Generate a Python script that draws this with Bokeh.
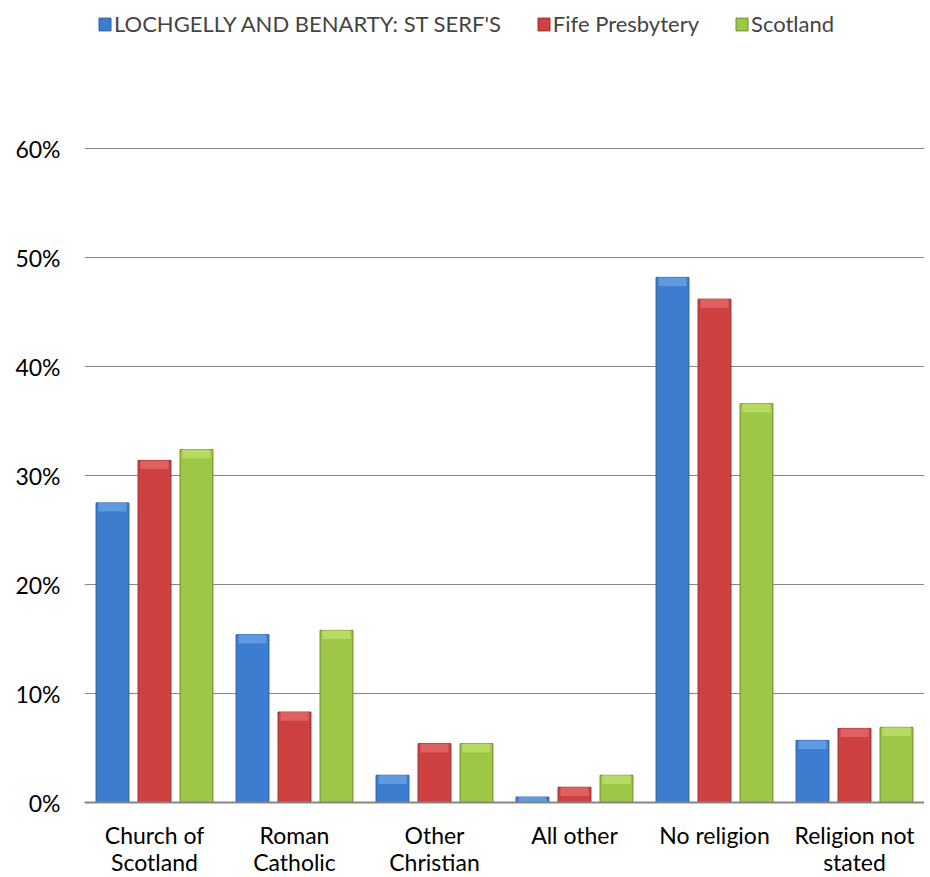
from bokeh.plotting import figure
from bokeh.layouts import column
from bokeh.models import (ColumnDataSource, FixedTicker, Legend, LegendItem, Range1d,
                          NumeralTickFormatter)
from bokeh.core.properties import value
from bokeh.embed import file_html
from bokeh.resources import INLINE

categories = ["Church of\nScotland", "Roman\nCatholic", "Other\nChristian", "All other", "No religion", "Religion not\nstated"]
series_names = ["LOCHGELLY AND BENARTY: ST SERF'S", "Fife Presbytery", "Scotland"]
local = [0.275, 0.154, 0.025, 0.005, 0.482, 0.057]
fife = [0.314, 0.083, 0.054, 0.014, 0.462, 0.068]
scotland = [0.324, 0.158, 0.054, 0.025, 0.366, 0.069]
y_ticks = [0, 0.1, 0.2, 0.3, 0.4, 0.5, 0.6]

colors = ["#3d7dcf", "#cf4040", "#9ec647"]
tops = ["#5e9ae2", "#de6060", "#b6da62"]
edges = ["#2c5f9e", "#962c2c", "#6b8c2c"]
font = "Lato"
fs = "23px"
W = 924
LEFT = 84

xr = Range1d(0, 6)


def bare(fig):
    fig.axis.visible = False
    fig.grid.visible = False
    fig.outline_line_color = None
    fig.background_fill_color = "white"
    fig.border_fill_color = "white"


# ---- legend strip ----
lg = figure(width=W, height=100, output_backend="svg", toolbar_location=None,
            x_range=xr, y_range=Range1d(0, 1),
            min_border_left=LEFT, min_border_right=0, min_border_top=0, min_border_bottom=0)
bare(lg)
items = []
for k, n in enumerate(series_names):
    r = lg.quad(left=[50], right=[51], bottom=[0], top=[1],
                fill_color=colors[k], line_color=edges[k])
    items.append(LegendItem(label=n, renderers=[r]))
legend = Legend(items=items, orientation="horizontal", location=(13, 63),
                label_text_font=font, label_text_font_size="22px",
                glyph_width=15, glyph_height=16, spacing=35, label_standoff=2,
                padding=0, margin=0, border_line_color=None, background_fill_alpha=0)
lg.add_layout(legend, "center")

# ---- main chart ----
p = figure(width=W, height=718, output_backend="svg", toolbar_location=None,
           x_range=xr, y_range=Range1d(0, 0.6012),
           min_border_left=LEFT, min_border_right=0, min_border_top=47, min_border_bottom=16)
p.outline_line_color = None
p.background_fill_color = "white"
p.border_fill_color = "white"

offsets = [-0.3, 0.0, 0.3]
xs = [i + 0.5 for i in range(len(categories))]
band = 0.008
for k, vals in enumerate([local, fife, scotland]):
    bx = [x + offsets[k] for x in xs]
    src = ColumnDataSource(dict(x=bx, top=vals))
    p.vbar(x="x", top="top", width=0.235, bottom=0, source=src,
           fill_color=colors[k], line_color=edges[k], line_width=1)
    bsrc = ColumnDataSource(dict(x=bx, top=vals, bottom=[max(v - band, 0) for v in vals]))
    p.vbar(x="x", top="top", bottom="bottom", width=0.2, source=bsrc,
           fill_color=tops[k], line_color=None)

p.xaxis.ticker = FixedTicker(ticks=[])
p.xaxis.major_tick_line_color = None
p.xaxis.minor_tick_line_color = None
p.xaxis.major_tick_out = 0
p.xaxis.major_tick_in = 0
p.xaxis.major_label_standoff = 0
p.xaxis.axis_line_color = "#868686"
p.xaxis.axis_line_width = 2

p.yaxis.ticker = FixedTicker(ticks=y_ticks)
p.yaxis.formatter = NumeralTickFormatter(format="0%")
p.yaxis.major_label_text_font = font
p.yaxis.major_label_text_font_size = fs
p.yaxis.major_label_text_color = "#000000"
p.yaxis.axis_line_color = None
p.yaxis.major_tick_line_color = None
p.yaxis.major_tick_out = 0
p.yaxis.major_tick_in = 0
p.yaxis.minor_tick_line_color = None
p.yaxis.major_label_standoff = 24

p.xgrid.grid_line_color = None
p.ygrid.grid_line_color = "#868686"
p.ygrid.grid_line_width = 1

# ---- category labels strip ----
lb = figure(width=W, height=57, output_backend="svg", toolbar_location=None,
            x_range=xr, y_range=Range1d(0, 57),
            min_border_left=LEFT, min_border_right=0, min_border_top=0, min_border_bottom=0)
bare(lb)
lx, ly, lt = [], [], []
for x, c in zip(xs, categories):
    for j, part in enumerate(c.split("\n")):
        lx.append(x)
        ly.append(41 - 27 * j)
        lt.append(part)
lb.text(x="x", y="y", text="t", source=ColumnDataSource(dict(x=lx, y=ly, t=lt)),
        text_font=value(font), text_font_size=fs, text_color="#000000",
        text_align="center", text_baseline="middle")

layout = column(lg, p, lb, spacing=0)
open("out.html", "w").write(file_html(layout, INLINE))
